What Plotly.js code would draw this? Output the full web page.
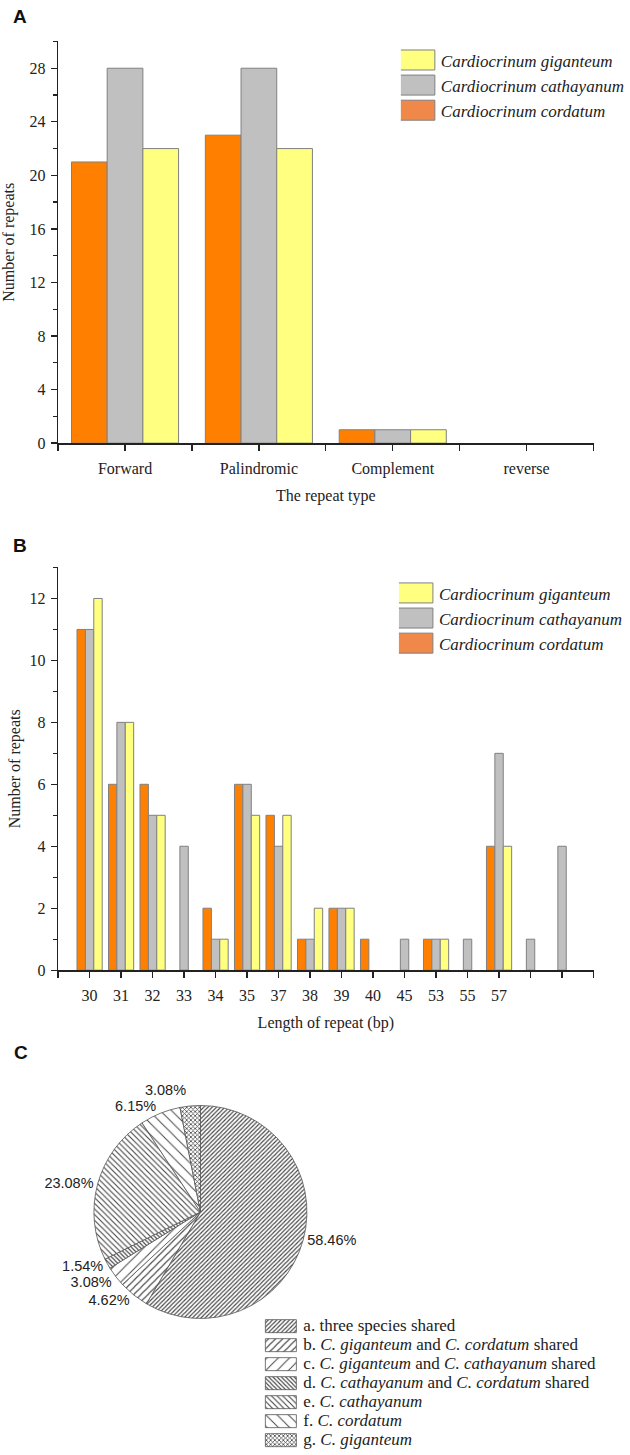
<!DOCTYPE html>
<html><head><meta charset="utf-8">
<script src="https://cdn.plot.ly/plotly-3.0.1.min.js"></script>
<style>body{margin:0;background:#fff}#chart{width:630px;height:1455px}path.textline{display:none}</style>
</head><body><div id="chart"></div>
<script>
// ---------- Panel A data ----------
const typeCats = ['Forward', 'Palindromic', 'Complement', 'reverse'];
const typeCordatum = [21, 23, 1, 0];
const typeCathayanum = [28, 28, 1, 0];
const typeGiganteum = [22, 22, 1, 0];

// ---------- Panel B data ----------
const lengthLabels = ['30', '31', '32', '33', '34', '35', '37', '38', '39', '40', '45', '53', '55', '57', '', ''];
const lenCordatum = [11, 6, 6, 0, 2, 6, 5, 1, 2, 1, 0, 1, 0, 4, 0, 0];
const lenCathayanum = [11, 8, 5, 4, 1, 6, 4, 1, 2, 0, 1, 1, 1, 7, 1, 4];
const lenGiganteum = [12, 8, 5, 0, 1, 5, 5, 2, 2, 0, 0, 1, 0, 4, 0, 0];

const seriesNames = ['Cardiocrinum cordatum', 'Cardiocrinum cathayanum', 'Cardiocrinum giganteum'];

// ---------- Panel C data ----------
const pieLabels = [
  'a. three species shared',
  'b. <i>C. giganteum</i> and <i>C. cordatum</i> shared',
  'c. <i>C. giganteum</i> and <i>C. cathayanum</i> shared',
  'd. <i>C. cathayanum</i> and <i>C. cordatum</i> shared',
  'e. <i>C. cathayanum</i>',
  'f. <i>C. cordatum</i>',
  'g. <i>C. giganteum</i>'
];
const pieCounts = [38, 3, 2, 1, 15, 4, 2];

// ---------- styles ----------
const colors = ['#FF8000', '#C0C0C0', '#FFFF80'];
const cordatumKeyColor = '#F0884A';
const serif = 'Liberation Serif, Times New Roman, serif';
const sans = 'Liberation Sans, Arial, sans-serif';
const ink = '#222';
const H = 1455, W = 630;
const py = v => 1 - v / H;
const px = v => v / W;

const xA = typeCats.map((_, i) => i);
const xB = lengthLabels.map((_, i) => i + 1);

const traces = [];
[typeCordatum, typeCathayanum, typeGiganteum].forEach((vals, k) => {
  traces.push({
    type: 'bar', x: xA, y: vals, name: seriesNames[k], xaxis: 'x', yaxis: 'y',
    legend: 'legend',
    marker: {color: colors[k], line: {color: '#808080', width: vals.map(v => v ? 1 : 0)}},
    hoverinfo: 'y+name'
  });
});
[lenCordatum, lenCathayanum, lenGiganteum].forEach((vals, k) => {
  traces.push({
    type: 'bar', x: xB, y: vals, name: seriesNames[k], xaxis: 'x2', yaxis: 'y2',
    legend: 'legend2',
    marker: {color: colors[k], line: {color: '#808080', width: vals.map(v => v ? 1 : 0)}},
    hoverinfo: 'y+name'
  });
});
traces.push({
  type: 'pie',
  labels: pieLabels.map(l => '<span style="font-size:17px">' + l + '</span>'),
  values: pieCounts,
  legend: 'legend3',
  sort: false, direction: 'clockwise', rotation: 0,
  domain: {x: [px(97), px(317)], y: [py(1338), py(1118)]},
  textposition: 'outside',
  texttemplate: '%{percent:.2%}',
  textfont: {family: sans, size: 14.5, color: ink},
  marker: {
    colors: pieCounts.map(() => '#ffffff'),
    line: {color: '#555', width: 0.8},
    pattern: {
      shape: ['/', '/', '/', '\\', '\\', '\\', 'x'],
      size: [3, 5, 8, 3, 4, 8, 3],
      solidity: [0.38, 0.22, 0.12, 0.38, 0.28, 0.12, 0.45],
      fgcolor: '#444', bgcolor: '#ffffff', fillmode: 'replace'
    }
  },
  hoverinfo: 'label+percent'
});

const tickfont = {family: serif, size: 16, color: ink};
const titlefont = {family: serif, size: 16, color: ink};
const axisBase = {
  showline: true, linecolor: ink, linewidth: 1.5, showgrid: false, zeroline: false,
  ticks: 'outside', ticklen: 6, tickwidth: 1.3, tickcolor: ink, tickfont: tickfont
};

const legendBase = {
  bgcolor: 'rgba(0,0,0,0)', borderwidth: 0,
  font: {family: serif, size: 17, color: ink, style: 'italic'},
  xanchor: 'left', yanchor: 'top', traceorder: 'reversed'
};

const layout = {
  width: W, height: H,
  margin: {l: 0, r: 0, t: 0, b: 0},
  paper_bgcolor: '#fff', plot_bgcolor: '#fff',
  barmode: 'group', bargap: 0.2, bargroupgap: 0,
  xaxis: Object.assign({}, axisBase, {
    domain: [px(60), px(613)], anchor: 'y', range: [-0.5, 3.5],
    tickmode: 'array', tickvals: xA, ticktext: typeCats, ticklabelstandoff: 4,
    minor: {ticks: 'outside', ticklen: 6, tickwidth: 1.3, tickcolor: ink, tick0: -0.5, dtick: 1, showgrid: false},
    title: {text: 'The repeat type', font: titlefont, standoff: 13}
  }),
  yaxis: Object.assign({}, axisBase, {
    domain: [py(449), py(42)], anchor: 'x', range: [0, 30],
    tickmode: 'linear', tick0: 0, dtick: 4, ticklabelstandoff: 2,
    minor: {ticks: 'outside', ticklen: 4, tickwidth: 1.3, tickcolor: ink, tick0: 0, dtick: 2, showgrid: false},
    title: {text: 'Number of repeats', font: titlefont, standoff: 14}
  }),
  xaxis2: Object.assign({}, axisBase, {
    domain: [px(60), px(613)], anchor: 'y2', range: [0, 17],
    tickmode: 'array', tickvals: xB, ticktext: lengthLabels, ticklabelstandoff: 4,
    minor: {ticks: 'outside', ticklen: 6, tickwidth: 1.3, tickcolor: ink, tick0: 0, dtick: 1, showgrid: false},
    title: {text: 'Length of repeat (bp)', font: titlefont, standoff: 14}
  }),
  yaxis2: Object.assign({}, axisBase, {
    domain: [py(983), py(575)], anchor: 'x2', range: [0, 13],
    tickmode: 'linear', tick0: 0, dtick: 2, ticklabelstandoff: 2,
    minor: {ticks: 'outside', ticklen: 4, tickwidth: 1.3, tickcolor: ink, tick0: 0, dtick: 1, showgrid: false},
    title: {text: 'Number of repeats', font: titlefont, standoff: 5}
  }),
  legend: Object.assign({}, legendBase, {x: px(414), y: py(43)}),
  legend2: Object.assign({}, legendBase, {x: px(412), y: py(583)}),
  legend3: {
    bgcolor: 'rgba(0,0,0,0)', borderwidth: 0,
    font: {family: serif, size: 11.5, color: ink},
    xanchor: 'left', yanchor: 'top', traceorder: 'normal',
    x: px(272), y: py(1329)
  },
  annotations: [
    {text: '<b>A</b>', x: px(21), y: py(17)},
    {text: '<b>B</b>', x: px(21), y: py(553)},
    {text: '<b>C</b>', x: px(22), y: py(1066)}
  ].map(a => Object.assign(a, {
    xref: 'paper', yref: 'paper', showarrow: false, xanchor: 'center', yanchor: 'middle',
    font: {family: sans, size: 19, color: '#111'}
  })),
  showlegend: true
};

function restyleSwatches(gd) {
  // enlarge legend swatches to match the boxed keys of the original figure
  const setSwatch = (cls, d) => {
    gd.querySelectorAll('g.' + cls + ' .legendpoints path').forEach(p => {
      p.setAttribute('d', d);
      const f = (p.style.fill || '').replace(/\s/g, '');
      if (f === 'rgb(255,128,0)') p.style.fill = cordatumKeyColor;
    });
  };
  setSwatch('legend', 'M14,10H-25V-10H14Z');
  setSwatch('legend2', 'M14,10H-25V-10H14Z');
  setSwatch('legend3', 'M13,6.5H-18V-6.5H13Z');
}

Plotly.newPlot('chart', traces, layout, {displayModeBar: false, staticPlot: true}).then(gd => {
  restyleSwatches(gd);
});
</script>
</body></html>
